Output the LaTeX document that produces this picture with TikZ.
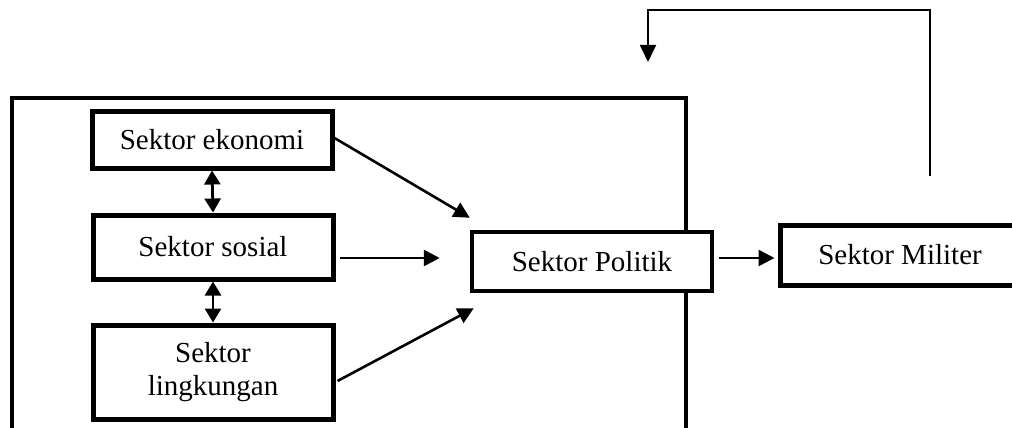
\documentclass[tikz,border=0pt]{standalone}
\usepackage{fontspec}
\setmainfont{Liberation Serif}
\usetikzlibrary{arrows.meta}
\tikzset{
  sbox/.style={draw, fill=white, line width=5pt, minimum width=240pt, inner sep=0pt, align=center, font=\fontsize{29}{33}\selectfont},
  arr/.style={line width=2.6pt, -{Triangle[length=16pt,width=16pt]}},
  darr/.style={line width=2.8pt, {Triangle[length=14pt,width=16pt]}-{Triangle[length=14pt,width=16pt]}},
  thin/.style={line width=1.8pt, -{Triangle[length=17pt,width=16pt]}},
  frame/.style={line width=4.5pt}
}
\begin{document}
\begin{tikzpicture}[x=1pt,y=-1pt]
\useasboundingbox (0,0) rectangle (1012,428);
\clip (0,0) rectangle (1012,428);
\fill[white] (0,0) rectangle (1012,428);
\draw[frame] (12,98) rectangle (686,460);
\node[sbox, minimum height=57pt] (eko) at (212,139.5) {Sektor ekonomi};
\node[sbox, minimum height=64pt] (sos) at (213,247) {Sektor sosial};
\node[sbox, minimum height=94pt] (ling) at (213,372) {Sektor\\lingkungan};
\node[sbox, line width=4.5pt, minimum height=59pt] (pol) at (592,261.5) {Sektor Politik};
\node[sbox, minimum height=60pt] (mil) at (900,255) {Sektor Militer};
\draw[darr] (eko.south) -- (sos.north);
\draw[darr] (sos.south) -- (ling.north);
\draw[arr] ([yshift=1.5pt]eko.east) -- ([yshift=12pt]pol.north west);
\coordinate (s1) at ([xshift=4pt,yshift=-11pt]sos.east);
\coordinate (p1) at ([xshift=-30pt]pol.west |- s1);
\draw[arr] (s1) -- (p1);
\draw[arr] ([xshift=2pt,yshift=-9pt]ling.east) -- ([xshift=4pt,yshift=-15pt]pol.south west);
\coordinate (q1) at ([yshift=3.5pt]pol.east);
\coordinate (m1) at (mil.west |- q1);
\draw[arr, shorten <=5pt, shorten >=3pt] (q1) -- (m1);
\coordinate (fb1) at ([xshift=30pt,yshift=47pt]mil.north);
\coordinate (fb2) at (648,62);
\draw[thin] (fb1) |- (648,10) -- (fb2);
\end{tikzpicture}
\end{document}
